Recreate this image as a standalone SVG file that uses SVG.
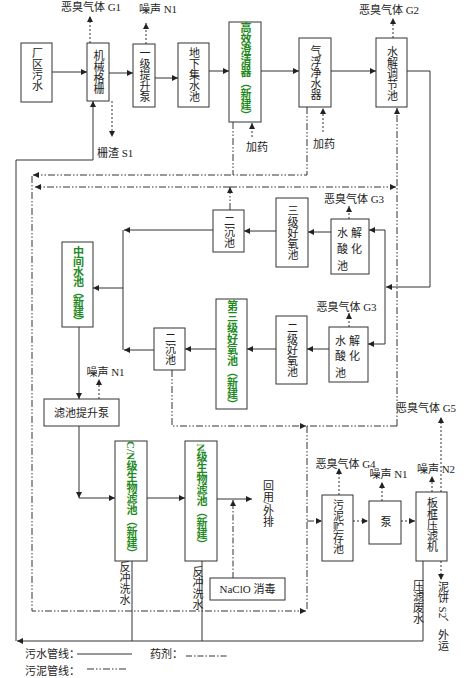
<svg xmlns="http://www.w3.org/2000/svg" width="470" height="678" viewBox="0 0 470 678">
<defs>
<marker id="ah" viewBox="0 0 10 10" refX="10" refY="5" markerWidth="7" markerHeight="6" markerUnits="userSpaceOnUse" orient="auto"><path d="M0,0 L10,5 L0,10 Z" fill="#222"/></marker>
<style>
text{font-family:"Liberation Serif","Noto Sans CJK SC",serif;font-size:11px;fill:#222}
.v{writing-mode:vertical-rl;text-anchor:middle}
.g{fill:#1e8a1e;font-weight:bold}
.m{text-anchor:middle}
rect{fill:#fff;stroke:#333;stroke-width:1}
.w{fill:none;stroke:#333;stroke-width:1}
.s{fill:none;stroke:#333;stroke-width:1;stroke-dasharray:7 2 1.5 2 1.5 2}
.d{fill:none;stroke:#333;stroke-width:1;stroke-dasharray:6 2 1.5 2}
.t{fill:none;stroke:#333;stroke-width:1;stroke-dasharray:2 2}
</style>
</defs>
<rect x="0" y="0" width="470" height="678" style="fill:#fff;stroke:none"/>
<g id="connectors">
<path class="w" d="M52,72 H87" marker-end="url(#ah)"/>
<path class="w" d="M109,73 H133" marker-end="url(#ah)"/>
<path class="w" d="M155,78 H178" marker-end="url(#ah)"/>
<path class="w" d="M209,71 H229" marker-end="url(#ah)"/>
<path class="w" d="M261,71 H299" marker-end="url(#ah)"/>
<path class="w" d="M331,71 H376" marker-end="url(#ah)"/>
<path class="w" d="M407,71 H430 V287 H386" marker-end="url(#ah)"/>
<path class="w" d="M385,344 V230"/>
<path class="w" d="M385,230 H369" marker-end="url(#ah)"/>
<path class="w" d="M385,344 H368" marker-end="url(#ah)"/>
<path class="w" d="M331,232 H308" marker-end="url(#ah)"/>
<path class="w" d="M276,231 H244" marker-end="url(#ah)"/>
<path class="w" d="M213,230 H124" marker-end="url(#ah)"/>
<path class="w" d="M123,230 V350"/>
<path class="w" d="M329,349 H307" marker-end="url(#ah)"/>
<path class="w" d="M276,349 H247" marker-end="url(#ah)"/>
<path class="w" d="M216,349 H185" marker-end="url(#ah)"/>
<path class="w" d="M154,350 H124" marker-end="url(#ah)"/>
<path class="w" d="M123,288 H93" marker-end="url(#ah)"/>
<path class="w" d="M79,327 V399" marker-end="url(#ah)"/>
<path class="w" d="M79,426 V498" marker-end="url(#ah)"/>
<path class="w" d="M79,498 H115" marker-end="url(#ah)"/>
<path class="w" d="M147,498 H185" marker-end="url(#ah)"/>
<path class="w" d="M217,499 H252" marker-end="url(#ah)"/>
<path class="w" d="M132,561 V641"/>
<path class="w" d="M202,561 V641"/>
<path class="w" d="M423,561 V641 H17" marker-end="url(#ah)"/>
<path class="w" d="M16,641 V160 H93 V101" marker-end="url(#ah)"/>
<path class="s" d="M233,122 V175"/>
<path class="s" d="M307,107 V175 H33" marker-end="url(#ah)"/>
<path class="s" d="M230,210 V187" marker-end="url(#ah)"/>
<path class="s" d="M230,187 H35" marker-end="url(#ah)"/>
<path class="s" d="M230,187 H396" marker-end="url(#ah)"/>
<path class="s" d="M397,426 V108" marker-end="url(#ah)"/>
<path class="s" d="M397,426 H307"/>
<path class="s" d="M172,370 V426 H306" marker-end="url(#ah)"/>
<path class="s" d="M32,176 V611 H306" marker-end="url(#ah)"/>
<path class="s" d="M307,426 V611"/>
<path class="s" d="M307,521 H322" marker-end="url(#ah)"/>
<path class="d" d="M233,578 V500" marker-end="url(#ah)"/>
<path class="t" d="M90,43 V16" marker-end="url(#ah)"/>
<path class="t" d="M112,101 V137" marker-end="url(#ah)"/>
<path class="t" d="M146,44 V23" marker-end="url(#ah)"/>
<path class="t" d="M252,137 V123" marker-end="url(#ah)"/>
<path class="t" d="M323,132 V108" marker-end="url(#ah)"/>
<path class="t" d="M393,38 V18" marker-end="url(#ah)"/>
<path class="t" d="M349,219 V206" marker-end="url(#ah)"/>
<path class="t" d="M349,327 V313" marker-end="url(#ah)"/>
<path class="t" d="M99,399 V379" marker-end="url(#ah)"/>
<path class="t" d="M339,495 V468" marker-end="url(#ah)"/>
<path class="t" d="M382,501 V482" marker-end="url(#ah)"/>
<path class="t" d="M432,492 V476" marker-end="url(#ah)"/>
<path class="t" d="M441,492 V417" marker-end="url(#ah)"/>
<path class="t" d="M353,521 H368" marker-end="url(#ah)"/>
<path class="t" d="M401,521 H415" marker-end="url(#ah)"/>
<path class="t" d="M441,561 V580" marker-end="url(#ah)"/>
</g>
<g id="n-changqu"><rect x="21" y="43" width="31" height="59"/><text class="v" x="36.5" y="69">厂区污水</text></g>
<g id="n-geshan"><rect x="87" y="43" width="22" height="58"/><text class="v" x="98" y="72">机械格栅</text></g>
<g id="n-tisheng1"><rect x="133" y="44" width="22" height="63"/><text class="v" x="144" y="75">一级提升泵</text></g>
<g id="n-jishui"><rect x="178" y="43" width="31" height="64"/><text class="v" x="193.5" y="75">地下集水池</text></g>
<g id="n-chengqing"><rect x="229" y="22" width="32" height="100"/><text class="v g" x="245" y="72">高效澄清器（新建）</text></g>
<g id="n-qifu"><rect x="299" y="38" width="32" height="69"/><text class="v" x="315" y="73">气浮净水器</text></g>
<g id="n-tiaojie"><rect x="376" y="38" width="31" height="69"/><text class="v" x="391.5" y="74">水解调节池</text></g>
<g id="n-suanhua1"><rect x="331" y="219" width="38" height="55"/><text x="337" y="237" letter-spacing="3">水解</text><text x="337" y="253" letter-spacing="3">酸化</text><text x="337" y="270">池</text></g>
<g id="n-haoyang3"><rect x="276" y="198" width="32" height="69"/><text class="v" x="292" y="233">三级好氧池</text></g>
<g id="n-erchen1"><rect x="213" y="210" width="31" height="42"/><text class="v" x="228.5" y="232">二沉池</text></g>
<g id="n-zhongjian"><rect x="62" y="242" width="31" height="85"/><text class="v g" x="77.5" y="286" letter-spacing="-1">中间水池（新建）</text></g>
<g id="n-suanhua2"><rect x="329" y="327" width="39" height="55"/><text x="335" y="345" letter-spacing="3">水解</text><text x="335" y="360" letter-spacing="3">酸化</text><text x="335" y="377">池</text></g>
<g id="n-haoyang2"><rect x="276" y="316" width="31" height="68"/><text class="v" x="291.5" y="350">二级好氧池</text></g>
<g id="n-haoyang3new"><rect x="216" y="299" width="31" height="110"/><text class="v g" x="231.5" y="355">第三级好氧池（新建）</text></g>
<g id="n-erchen2"><rect x="154" y="328" width="31" height="42"/><text class="v" x="169.5" y="349">二沉池</text></g>
<g id="n-lvchibeng"><rect x="44" y="399" width="75" height="27"/><text class="m" x="81.5" y="417">滤池提升泵</text></g>
<g id="n-cn"><rect x="115" y="441" width="32" height="120"/><text class="v g" x="131" y="500">C/N级生物滤池（新建）</text></g>
<g id="n-n"><rect x="185" y="441" width="32" height="120"/><text class="v g" x="201" y="497">N级生物滤池（新建）</text></g>
<g id="n-naclo"><rect x="210" y="578" width="75" height="22"/><text class="m" x="247.5" y="593">NaClO 消毒</text></g>
<g id="n-wuni"><rect x="322" y="495" width="31" height="66"/><text class="v" x="337.5" y="527">污泥贮存池</text></g>
<g id="n-beng"><rect x="369" y="501" width="32" height="43"/><text class="v" x="385" y="522">泵</text></g>
<g id="n-yalv"><rect x="416" y="492" width="31" height="69"/><text class="v" x="431.5" y="525">板框压滤机</text></g>
<g id="labels">
<text class="m" x="91" y="11">恶臭气体 G1</text>
<text class="m" x="158" y="13">噪声 N1</text>
<text x="97" y="157">栅渣 S1</text>
<text x="246" y="151">加药</text>
<text x="313" y="148">加药</text>
<text class="m" x="389" y="14">恶臭气体 G2</text>
<text class="m" x="354" y="203">恶臭气体 G3</text>
<text class="m" x="346.5" y="311">恶臭气体 G3</text>
<text class="m" x="105.5" y="376">噪声 N1</text>
<text class="m" x="426" y="412">恶臭气体 G5</text>
<text class="m" x="345.5" y="468">恶臭气体 G4</text>
<text class="m" x="388.5" y="478">噪声 N1</text>
<text class="m" x="436" y="473">噪声 N2</text>
<text class="v" x="267.5" y="503.5">回用/外排</text>
<text class="v" x="124" y="583">反冲洗水</text>
<text class="v" x="197" y="588">反冲洗水</text>
<text class="v" x="417.5" y="602.5">压滤废水</text>
<text class="v" x="442.5" y="616.5">泥饼 S2、外运</text>
</g>
<g id="legend">
<text x="25" y="658">污水管线：</text>
<path class="w" d="M77,654 H132"/>
<text x="150" y="658">药剂：</text>
<path class="d" d="M186,656 H227"/>
<text x="25" y="675">污泥管线：</text>
<path class="s" d="M87,669 H128"/>
</g>
</svg>
